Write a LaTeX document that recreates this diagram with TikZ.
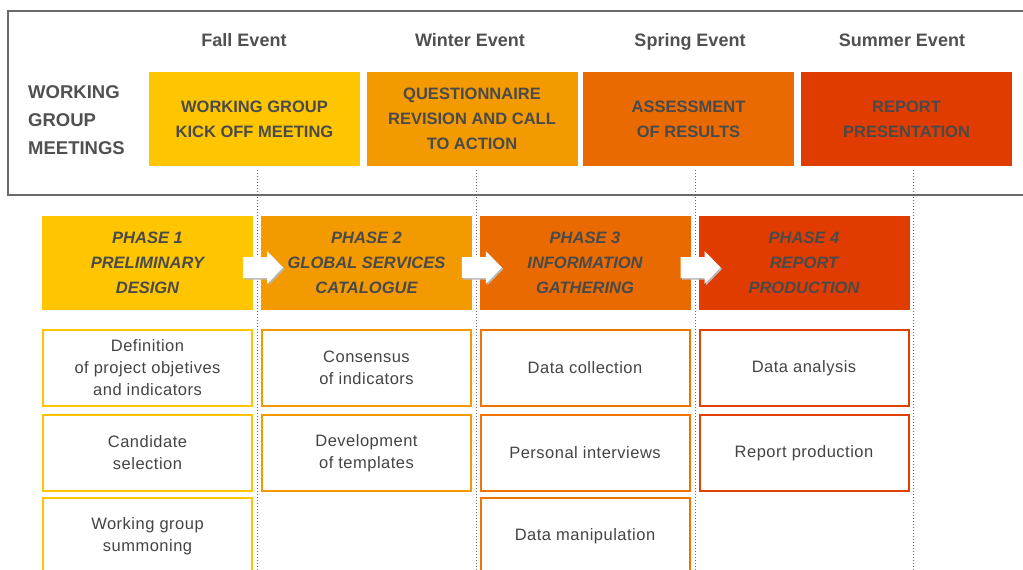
\documentclass[tikz,border=0pt]{standalone}
\usepackage{fontspec}
\setmainfont{Liberation Sans}
\usetikzlibrary{calc}
\definecolor{c1}{HTML}{FFC600}
\definecolor{c2}{HTML}{F39A00}
\definecolor{c3}{HTML}{E96A00}
\definecolor{c4}{HTML}{E03C00}
\definecolor{b1}{HTML}{FFC400}
\definecolor{b2}{HTML}{F39800}
\definecolor{b3}{HTML}{F07400}
\definecolor{b4}{HTML}{E24000}
\definecolor{txt}{HTML}{505050}
\definecolor{btxt}{HTML}{4A4A4A}
\definecolor{ttxt}{HTML}{444444}
\definecolor{framec}{HTML}{6A6A6A}
\newcommand\drawparrow[1]{%
  \fill[pshadow] ($(#1)+(1.5,1.5)$) ++(-20,-10.5) -- ++(24,0) -- ++(0,-6) -- ++(16,16.5) -- ++(-16,16.5) -- ++(0,-6) -- ++(-24,0) -- cycle;
  \fill[parrow] (#1) ++(-20,-10.5) -- ++(24,0) -- ++(0,-6) -- ++(16,16.5) -- ++(-16,16.5) -- ++(0,-6) -- ++(-24,0) -- cycle;}
\begin{document}
\begin{tikzpicture}[x=1pt,y=-1pt,
  evt/.style={font=\fontsize{18}{20}\selectfont\bfseries, text=txt, inner sep=0, anchor=base},
  lbl/.style={font=\fontsize{18.5}{28}\selectfont\bfseries, text=txt, align=left, anchor=west, inner sep=0},
  meet/.style={minimum width=211pt, minimum height=94pt, inner sep=0, align=center,
    font=\fontsize{16.5}{25}\selectfont\bfseries, text=btxt},
  phase/.style={meet, font=\fontsize{16.5}{25}\selectfont\bfseries\itshape},
  task/.style={draw=#1, line width=2pt, fill=white, minimum width=209pt, minimum height=76pt,
    inner sep=0, align=center, font=\addfontfeatures{LetterSpace=3}\fontsize{16.5}{22}\selectfont, text=ttxt},
  sep/.style={dotted, line width=1pt, draw=framec},
  frame/.style={draw=framec, line width=1.3pt},
  parrow/.style={fill=white},
  pshadow/.style={fill=black!28}]
\useasboundingbox (0,0) rectangle (1023,570);
\clip (0,0) rectangle (1023,570);
\fill[white] (0,0) rectangle (1023,570);
% frame
\draw[frame] (1030,11) -- (8,11) -- (8,195) -- (1030,195);
% event headers
\node[evt] (e1) at (244,46.5) {Fall Event};
\node[evt] (e2) at (470,46.5) {Winter Event};
\node[evt] (e3) at (690,46.5) {Spring Event};
\node[evt] (e4) at (902,46.5) {Summer Event};
\node[lbl] (wgm) at (28,120) {WORKING\\GROUP\\MEETINGS};
% meeting boxes
\node[meet, fill=c1] (m1) at (254.5,119) {WORKING GROUP\\KICK OFF MEETING};
\node[meet, fill=c2] (m2) at (472,119) {QUESTIONNAIRE\\REVISION AND CALL\\TO ACTION};
\node[meet, fill=c3] (m3) at (688.5,119) {ASSESSMENT\\OF RESULTS};
\node[meet, fill=c4] (m4) at (906.5,119) {REPORT\\PRESENTATION};
% dotted separators
\coordinate (d1t) at (257,170); \coordinate (d1b) at (257,575);
\coordinate (d2t) at (476,170); \coordinate (d2b) at (476,575);
\coordinate (d3t) at (695,170); \coordinate (d3b) at (695,575);
\coordinate (d4t) at (913,170); \coordinate (d4b) at (913,575);
\draw[sep] (d1t) -- (d1b);
\draw[sep] (d2t) -- (d2b);
\draw[sep] (d3t) -- (d3b);
\draw[sep] (d4t) -- (d4b);
% phases
\node[phase, fill=c1] (p1) at (147.5,263) {PHASE 1\\PRELIMINARY\\DESIGN};
\node[phase, fill=c2] (p2) at (366.5,263) {PHASE 2\\GLOBAL SERVICES\\CATALOGUE};
\node[phase, fill=c3] (p3) at (585,263) {PHASE 3\\INFORMATION\\GATHERING};
\node[phase, fill=c4] (p4) at (804,263) {PHASE 4\\REPORT\\PRODUCTION};
% arrows
\coordinate (a12) at ($(p1.east)!0.5!(p2.west)+(6,4.5)$);
\coordinate (a23) at ($(p2.east)!0.5!(p3.west)+(6,4.5)$);
\coordinate (a34) at ($(p3.east)!0.5!(p4.west)+(6,4.5)$);
\drawparrow{a12}
\drawparrow{a23}
\drawparrow{a34}
% tasks
\node[task=b1] (t11) at (147.5,368) {Definition\\of project objetives\\and indicators};
\node[task=b1] (t12) at (147.5,453) {Candidate\\selection};
\node[task=b1] (t13) at (147.5,536) {Working group\\summoning};
\node[task=b2] (t21) at (366.5,368) {Consensus\\of indicators};
\node[task=b2] (t22) at (366.5,453) {Development\\of templates};
\node[task=b3] (t31) at (585,368) {Data collection};
\node[task=b3] (t32) at (585,453) {Personal interviews};
\node[task=b3] (t33) at (585,536) {Data manipulation};
\node[task=b4] (t41) at (804,368) {Data analysis};
\node[task=b4] (t42) at (804,453) {Report production};
\end{tikzpicture}
\end{document}
